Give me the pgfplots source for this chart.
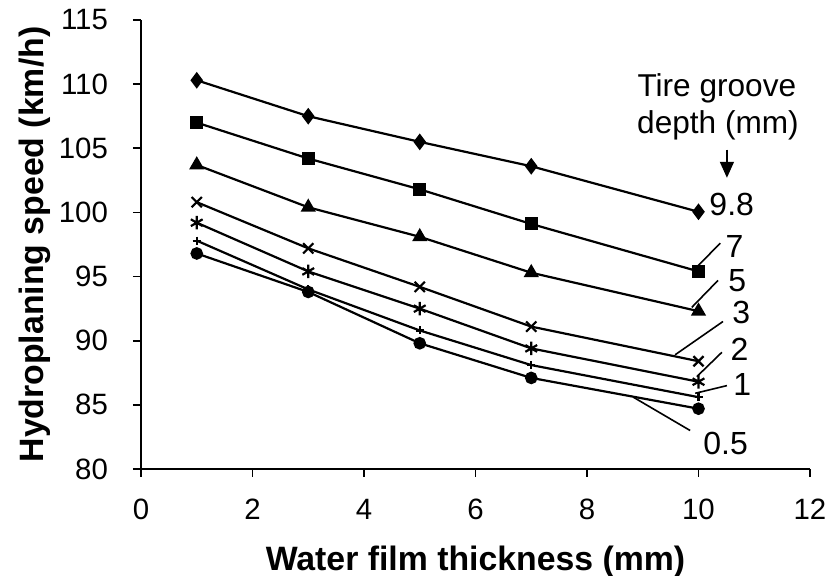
\documentclass[border=0pt]{standalone}
\usepackage{pgfplots}
\pgfplotsset{compat=1.18}
\usepackage{fontspec}
\setmainfont{Liberation Sans}
\usetikzlibrary{arrows.meta}

\begin{document}
\begin{tikzpicture}[lbl/.style={anchor=west, inner sep=0pt, font=\fontsize{16}{19}\selectfont}]
\begin{axis}[
  scale only axis, width=334.5pt, height=224.5pt,
  xmin=0, xmax=12, ymin=80, ymax=115,
  xtick={0,2,...,12}, ytick={80,85,...,115},
  axis x line*=bottom, axis y line*=left,
  axis line style={-, line width=0.8pt},
  tick align=outside, major tick length=4pt,
  tick style={black, line width=0.8pt},
  /pgf/number format/assume math mode=true,
  xticklabel={\pgfmathprintnumber{\tick}},
  yticklabel={\pgfmathprintnumber{\tick}},
  xticklabel style={font=\fontsize{14.7}{17}\selectfont, yshift=-7.5pt},
  yticklabel style={font=\fontsize{14.7}{17}\selectfont, xshift=-9pt},
  label style={font=\bfseries\fontsize{16.9}{20}\selectfont},
  xlabel={Water film thickness (mm)},
  ylabel={Hydroplaning speed (km/h)},
  xlabel style={at={(axis description cs:0.5,-0.2071)}, anchor=center},
  ylabel style={at={(axis description cs:-0.1584,0.5)}, anchor=center},
  clip=false,
  every axis plot/.append style={black, line width=1.1pt, mark options={solid, fill=black}},
]
% tire groove depth 9.8 mm
\addplot[mark=diamond*, mark size=3.3pt] coordinates {(1,110.3) (3,107.5) (5,105.5) (7,103.6) (10,100.05)};
% 7 mm
\addplot[mark=square*, mark size=2.7pt] coordinates {(1,107.0) (3,104.2) (5,101.8) (7,99.1) (10,95.4)};
% 5 mm
\addplot[mark=triangle*, mark size=3.3pt] coordinates {(1,103.7) (3,100.4) (5,98.1) (7,95.3) (10,92.3)};
% 3 mm
\addplot[mark=x, mark size=3.6pt] coordinates {(1,100.8) (3,97.2) (5,94.2) (7,91.1) (10,88.4)};
% 2 mm
\addplot[mark=asterisk, mark size=3.4pt] coordinates {(1,99.2) (3,95.4) (5,92.5) (7,89.4) (10,86.8)};
% 1 mm
\addplot[mark=+, mark size=2pt] coordinates {(1,97.8) (3,94.0) (5,90.8) (7,88.1) (10,85.6)};
% 0.5 mm
\addplot[mark=*, mark size=2.6pt] coordinates {(1,96.8) (3,93.8) (5,89.8) (7,87.1) (10,84.7)};

\node[lbl] at (axis cs:10.19,100.6) {9.8};
\node[lbl] at (axis cs:10.48,97.35) {7};
\node[lbl] at (axis cs:10.53,94.7) {5};
\node[lbl] at (axis cs:10.6,92.2) {3};
\node[lbl] at (axis cs:10.57,89.3) {2};
\node[lbl] at (axis cs:10.62,86.6) {1};
\node[lbl] at (axis cs:10.08,82.0) {0.5};

\draw[line width=0.8pt] (axis cs:10.39,97.6) -- (axis cs:9.96,95.7);
\draw[line width=0.8pt] (axis cs:10.35,94.7) -- (axis cs:9.88,92.6);
\draw[line width=0.8pt] (axis cs:10.44,91.5) -- (axis cs:9.58,88.9);
\draw[line width=0.8pt] (axis cs:10.42,89.1) -- (axis cs:9.97,87.2);
\draw[line width=0.8pt] (axis cs:10.51,86.5) -- (axis cs:9.94,85.9);
\draw[line width=0.8pt] (axis cs:9.85,83.0) -- (axis cs:8.83,85.6);

\draw[line width=0.8pt, -{Triangle[length=8pt, width=7pt]}] (axis cs:10.51,104.9) -- (axis cs:10.51,102.7);
\node[font=\fontsize{15.8}{18}\selectfont, inner sep=0pt] at (axis cs:10.33,109.7) {Tire groove};
\node[font=\fontsize{15.8}{18}\selectfont, inner sep=0pt] at (axis cs:10.35,106.8) {depth (mm)};
\end{axis}
\pgfresetboundingbox
\path[use as bounding box] (-70.5pt,-53.5pt) rectangle (344.5pt,234.5pt);
\end{tikzpicture}
\end{document}
